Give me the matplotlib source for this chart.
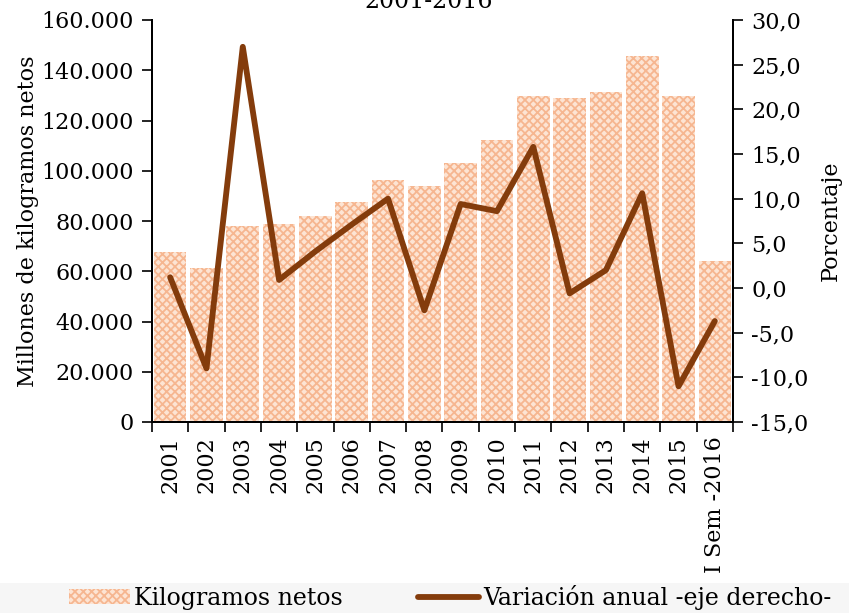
import matplotlib
matplotlib.use('Agg')

import matplotlib.pyplot as plt
import matplotlib.patches as mpatches
import numpy as np
from matplotlib.ticker import FuncFormatter, MultipleLocator

# categories and values
years = ['2001', '2002', '2003', '2004', '2005', '2006', '2007', '2008',
         '2009', '2010', '2011', '2012', '2013', '2014', '2015', 'I Sem -2016']
kilos = [67600, 61300, 78000, 78800, 82000, 87600, 96300, 93900,
         103000, 112200, 129700, 129000, 131300, 145700, 129700, 64100]
variacion = [1.2, -9.0, 27.0, 0.9, 4.1, 7.1, 10.0, -2.5,
             9.4, 8.6, 15.8, -0.6, 2.0, 10.6, -11.0, -3.7]

plt.rcParams['font.family'] = 'DejaVu Serif'
plt.rcParams['hatch.linewidth'] = 1.3

bar_face = '#fde4d3'
bar_hatch = '#f6b690'
line_color = '#843c0c'

fig = plt.figure(figsize=(8.49, 6.13), dpi=100)
fig.patch.set_facecolor('white')

# light grey band behind the legend
fig.patches.append(mpatches.Rectangle((0, 0), 1, 30 / 613, transform=fig.transFigure,
                                      facecolor='#f6f6f6', edgecolor='none', zorder=0))

ax = fig.add_axes([152 / 849, 1 - 422 / 613, (733 - 152) / 849, (422 - 20) / 613])
ax2 = ax.twinx()

x = np.arange(len(years))
bars = ax.bar(x, kilos, width=0.9, color=bar_face, edgecolor=bar_hatch,
              linewidth=0, hatch='xxxx', label='Kilogramos netos')
line, = ax2.plot(x, variacion, color=line_color, lw=4.2, solid_joinstyle='round',
                 solid_capstyle='round', label='Variación anual -eje derecho-')

ax.set_xlim(-0.5, len(years) - 0.5)
ax.set_ylim(0, 160000)
ax2.set_ylim(-15, 30)
ax.yaxis.set_major_locator(MultipleLocator(20000))
ax2.yaxis.set_major_locator(MultipleLocator(5))
ax.yaxis.set_major_formatter(FuncFormatter(lambda v, p: f'{int(v):,}'.replace(',', '.')))
ax2.yaxis.set_major_formatter(FuncFormatter(lambda v, p: f'{v:.1f}'.replace('.', ',')))

# category labels in the middle, tick marks on the boundaries
ax.set_xticks(x)
ax.set_xticklabels(years, rotation=90, fontsize=16)
ax.set_xticks(np.arange(-0.5, len(years), 1), minor=True)
ax.tick_params(axis='x', which='major', length=0, pad=10)
ax.tick_params(axis='x', which='minor', length=7, width=1.2, direction='out')
ax.tick_params(axis='y', labelsize=16, length=7, width=1.2, pad=6)
ax2.tick_params(axis='y', labelsize=16, length=7, width=1.2, pad=6)

for a in (ax, ax2):
    a.spines['top'].set_visible(False)
    for s in ('left', 'right', 'bottom'):
        a.spines[s].set_linewidth(1.4)
ax.set_facecolor('white')

ax.set_ylabel('Millones de kilogramos netos', fontsize=16, labelpad=2)
ax2.set_ylabel('Porcentaje', fontsize=16, labelpad=8)

fig.text(0.505, 1 - 8 / 613, '2001-2016', ha='center', va='baseline', fontsize=17)

fig.legend(handles=[bars, line], loc='center', bbox_to_anchor=(0.53, 1 - 597 / 613),
           ncol=2, frameon=False, fontsize=17, handlelength=2.6, handleheight=0.6,
           columnspacing=3.2, handletextpad=0.15)

fig.savefig('out.png', dpi=100)
